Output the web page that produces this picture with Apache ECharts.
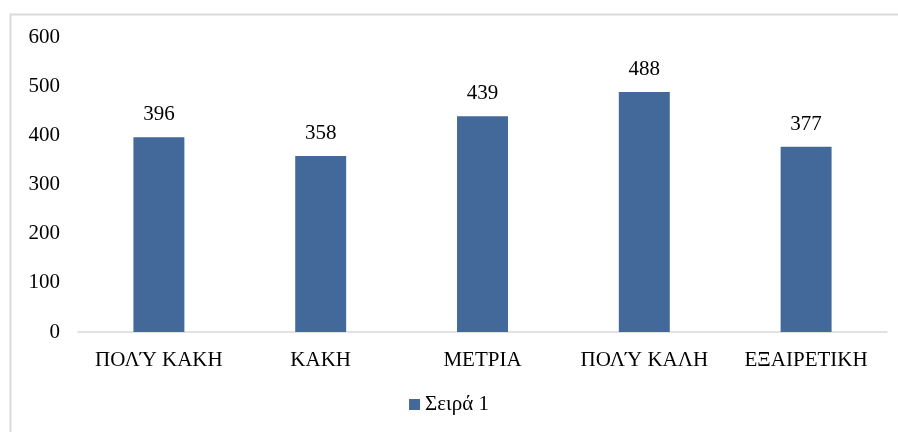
<!DOCTYPE html>
<html><head><meta charset="utf-8">
<script src="https://cdn.jsdelivr.net/npm/echarts@6/dist/echarts.min.js"></script>
<style>html,body{margin:0;padding:0;background:#fff}#c{width:898px;height:432px}</style>
</head><body><div id="c"></div>
<script>
const categories = ['ΠΟΛΎ ΚΑΚΗ', 'ΚΑΚΗ', 'ΜΕΤΡΙΑ', 'ΠΟΛΎ ΚΑΛΗ', 'ΕΞΑΙΡΕΤΙΚΗ'];
const values = [396, 358, 439, 488, 377];
const seriesName = 'Σειρά 1';
const font = '"Liberation Serif", "DejaVu Serif", serif';
const fs = 21;
const chart = echarts.init(document.getElementById('c'));
chart.setOption({
  animation: false,
  textStyle: { fontFamily: font },
  graphic: [{ type: 'rect', shape: { x: 10.5, y: 14.5, width: 900, height: 430 }, style: { fill: 'none', stroke: '#d9d9d9', lineWidth: 2 }, silent: true }],
  grid: { left: 78, right: 11, top: 37, bottom: 100 },
  legend: { bottom: 12, left: 'center', itemWidth: 11, itemHeight: 11, icon: 'rect', itemGap: 6,
    textStyle: { fontFamily: font, fontSize: fs, color: '#000' }, data: [seriesName] },
  xAxis: { type: 'category', data: categories,
    axisLine: { lineStyle: { color: '#d9d9d9', width: 1.5 } }, axisTick: { show: false },
    axisLabel: { fontFamily: font, fontSize: fs, color: '#000', margin: 18, interval: 0 } },
  yAxis: { type: 'value', min: 0, max: 600, interval: 100,
    axisLine: { show: false }, axisTick: { show: false }, splitLine: { show: false },
    axisLabel: { fontFamily: font, fontSize: fs, color: '#000', margin: 18 } },
  series: [{ name: seriesName, type: 'bar', data: values, barWidth: '31.5%',
    itemStyle: { color: '#43699a' },
    label: { show: true, position: 'top', distance: 12, fontFamily: font, fontSize: fs, color: '#000' } }]
});
</script></body></html>
